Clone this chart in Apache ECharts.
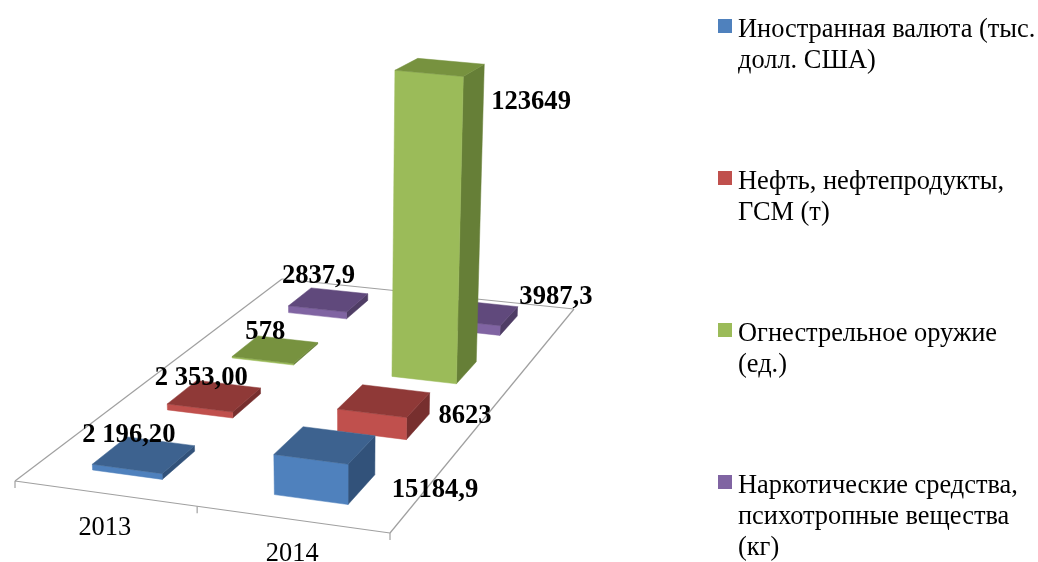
<!DOCTYPE html>
<html>
<head>
<meta charset="utf-8">
<script src="https://cdn.jsdelivr.net/npm/echarts@6/dist/echarts.min.js"></script>
<style>
  html, body { margin: 0; background: #fff; }
  #myChart { width: 1038px; height: 562px; }
</style>
</head>
<body>
<div id="myChart"></div>
<script>
const categories = ["2013", "2014"];
const seriesNames = [
  "Иностранная валюта (тыс. долл. США)",
  "Нефть, нефтепродукты, ГСМ (т)",
  "Огнестрельное оружие (ед.)",
  "Наркотические средства, психотропные вещества (кг)"
];
const legendLines = [
  ["Иностранная валюта (тыс.", "долл. США)"],
  ["Нефть, нефтепродукты,", "ГСМ (т)"],
  ["Огнестрельное оружие", "(ед.)"],
  ["Наркотические средства,", "психотропные вещества", "(кг)"]
];
const currencyValues = [2196.2, 15184.9];
const oilValues = [2353, 8623];
const weaponValues = [578, 123649];
const drugValues = [2837.9, 3987.3];
const currencyLabels = ["2 196,20", "15184,9"];
const oilLabels = ["2 353,00", "8623"];
const weaponLabels = ["578", "123649"];
const drugLabels = ["2837,9", "3987,3"];

const seriesValues = [currencyValues, oilValues, weaponValues, drugValues];
const seriesLabels = [currencyLabels, oilLabels, weaponLabels, drugLabels];

// front, side, top
const colors = [
  ["#4f81bd", "#32527a", "#3d628f"],
  ["#c0504d", "#772f2e", "#8f3937"],
  ["#9bbb59", "#667f37", "#77923f"],
  ["#8064a2", "#4f3d65", "#60497c"]
];
// label offset from the centre of the bar top, [series][category]
const labelShift = [
  [[-15, -20], [110, 45]],
  [[-13, -18], [81, 15]],
  [[-10, -18], [91, 35]],
  [[-10, -24], [77, -16]]
];
const legendTop = [15, 167, 319, 471];

// floor of the 3d box: front left, front right, back right, back left
const floor = [[15, 481], [390, 533], [574, 309], [282, 279]];
const barU = 0.39; // bar width inside a category
const barV = 0.44; // bar depth inside a row
const leanX = 343, lean = 0.0002;
const topSquash = 0.01; // tall bars: top face looks flatter

const FONT = '"Liberation Serif", "Times New Roman", serif';

// square -> quad homography
function makeProjection(q) {
  const [x0, y0] = q[0], [x1, y1] = q[1], [x2, y2] = q[2], [x3, y3] = q[3];
  const dx1 = x1 - x2, dx2 = x3 - x2, sx = x0 - x1 + x2 - x3;
  const dy1 = y1 - y2, dy2 = y3 - y2, sy = y0 - y1 + y2 - y3;
  const den = dx1 * dy2 - dx2 * dy1;
  const g = (sx * dy2 - dx2 * sy) / den;
  const h = (dx1 * sy - sx * dy1) / den;
  const a = x1 - x0 + g * x1, b = x3 - x0 + h * x3;
  const d = y1 - y0 + g * y1, e = y3 - y0 + h * y3;
  return function (u, v) {
    const w = g * u + h * v + 1;
    return { x: (a * u + b * v + x0) / w, y: (d * u + e * v + y0) / w, s: 1 / w };
  };
}
const project = makeProjection(floor);

function raised(p, height, dir) {
  const hh = height * (0.55 + 0.45 * p.s);
  return [p.x + (p.x - leanX) * lean * hh, p.y - hh - dir * topSquash * hh];
}
function poly(points, fill) {
  return { type: "polygon", shape: { points: points }, style: { fill: fill, stroke: fill, lineWidth: 0.5 } };
}

function renderBar(seriesIndex) {
  return function (params, api) {
    const cat = api.value(0);
    const height = api.size([0, api.value(1)])[1];
    const nCat = categories.length, nRow = seriesNames.length;
    const u0 = (cat + 0.5 - barU / 2) / nCat, u1 = (cat + 0.5 + barU / 2) / nCat;
    const v0 = (seriesIndex + 0.5 - barV / 2) / nRow, v1 = (seriesIndex + 0.5 + barV / 2) / nRow;
    const fl = project(u0, v0), fr = project(u1, v0), br = project(u1, v1), bl = project(u0, v1);
    const pt = (p) => [p.x, p.y];
    const tfl = raised(fl, height, 1), tfr = raised(fr, height, 1), tbr = raised(br, height, -1), tbl = raised(bl, height, -1);
    const c = colors[seriesIndex];
    const shift = labelShift[seriesIndex][cat];
    const cx = (tfl[0] + tfr[0] + tbr[0] + tbl[0]) / 4;
    const cy = (tfl[1] + tfr[1] + tbr[1] + tbl[1]) / 4;
    return {
      type: "group",
      children: [
        poly([pt(fr), pt(br), tbr, tfr], c[1]),
        poly([pt(fl), pt(fr), tfr, tfl], c[0]),
        poly([tfl, tfr, tbr, tbl], c[2]),
        {
          type: "text",
          style: {
            text: seriesLabels[seriesIndex][cat],
            x: cx + shift[0],
            y: cy + shift[1],
            align: "center",
            verticalAlign: "middle",
            font: "bold 26.6px " + FONT,
            fill: "#000"
          }
        }
      ]
    };
  };
}

function renderFloor(params, api) {
  const line = (a, b) => ({
    type: "line",
    shape: { x1: a[0], y1: a[1], x2: b[0], y2: b[1] },
    style: { stroke: "#a0a0a0", lineWidth: 1.2 }
  });
  const children = [
    line(floor[0], floor[1]),
    line(floor[1], floor[2]),
    line(floor[2], floor[3]),
    line(floor[3], floor[0])
  ];
  const n = categories.length;
  for (let i = 0; i <= n; i++) {
    const p = project(i / n, 0);
    children.push(line([p.x, p.y], [p.x, p.y + 7]));
  }
  categories.forEach((name, i) => {
    const p = project((i + 0.5) / n, 0);
    children.push({
      type: "text",
      style: {
        text: name,
        x: p.x,
        y: p.y + 35,
        align: "center",
        verticalAlign: "middle",
        font: "26.4px " + FONT,
        fill: "#000"
      }
    });
  });
  return { type: "group", children: children };
}

const series = [{
  type: "custom",
  name: "floor",
  z: 1,
  silent: true,
  clip: false,
  renderItem: renderFloor,
  data: [[0, 0]]
}];
seriesNames.forEach((name, s) => {
  series.push({
    type: "custom",
    name: name,
    z: 10 - s,
    silent: true,
    clip: false,
    itemStyle: { color: colors[s][0] },
    renderItem: renderBar(s),
    data: seriesValues[s].map((v, i) => [i, v])
  });
});

const legend = seriesNames.map((name, s) => {
  const boxH = legendLines[s].length * 31;
  return {
    left: 718,
    top: legendTop[s],
    padding: 0,
    orient: "vertical",
    selectedMode: false,
    itemWidth: 15,
    itemHeight: boxH,
    // square sits on the first text line, the rest of the box is empty
    data: [{ name: name, icon: "path://M0,0L15,0Z M0,4H14V18H0Z M0," + boxH + "L15," + boxH + "Z" }],
    formatter: () => legendLines[s].join("\n"),
    textStyle: { fontFamily: FONT, fontSize: 26.4, lineHeight: 31, color: "#000" }
  };
});

const charts = echarts.init(document.getElementById("myChart"), null, { renderer: "canvas" });
charts.setOption({
  animation: false,
  backgroundColor: "#fff",
  legend: legend,
  tooltip: { show: false },
  // hidden scale: gives the bar heights in pixels
  grid: { left: 15, top: 100, width: 375, height: 338 },
  xAxis: { type: "category", data: categories, show: false },
  yAxis: { type: "value", min: 0, max: 130000, show: false },
  series: series
});
</script>
</body>
</html>
